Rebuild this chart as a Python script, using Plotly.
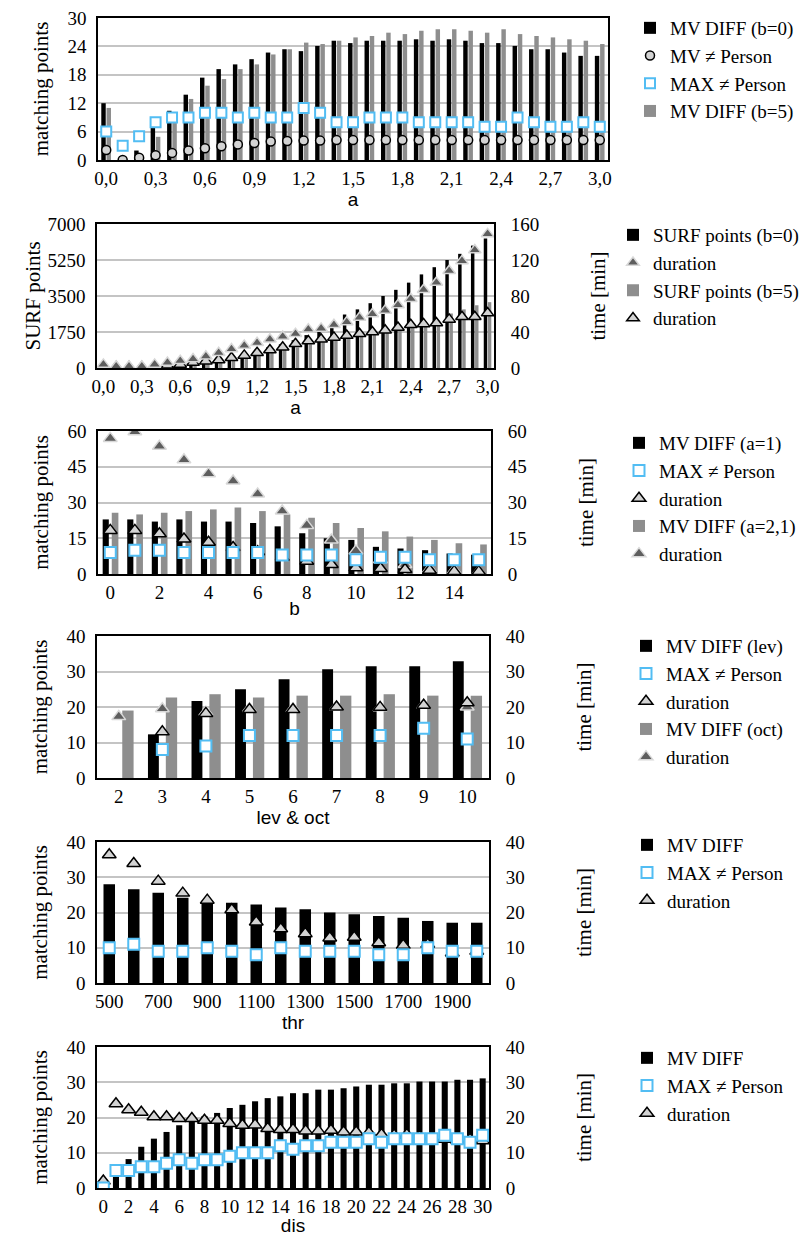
import plotly.graph_objects as go

W, H = 808, 1236
SERIF = "Liberation Serif, Times New Roman, serif"
SANS = "Liberation Sans, Arial, sans-serif"
BLACK = "#000000"
GRAY = "#8e8e8e"
GRID = "#c4c4c4"
BLUE = "#52bdf3"
LIGHT = "#d3d3d3"
DARK = "#5e5e5e"

# ---------------- data ----------------
a_labels = ["0,0", "0,1", "0,2", "0,3", "0,4", "0,5", "0,6", "0,7", "0,8", "0,9",
            "1,0", "1,1", "1,2", "1,3", "1,4", "1,5", "1,6", "1,7", "1,8", "1,9",
            "2,0", "2,1", "2,2", "2,3", "2,4", "2,5", "2,6", "2,7", "2,8", "2,9", "3,0"]
a_ticks = ["0,0", "0,3", "0,6", "0,9", "1,2", "1,5", "1,8", "2,1", "2,4", "2,7", "3,0"]

# panel 1
p1_mv_diff_b0 = [12, 0, 2, 7, 10.4, 13.8, 17.4, 19.2, 20.2, 21.3, 22.7, 23.4, 23.0, 24.1, 25.2, 24.7,
                 25.2, 25.2, 25.2, 25.5, 25.2, 25.5, 25.2, 24.7, 24.7, 24.1, 23.4, 23.4, 22.7, 22.0, 22.0]
p1_mv_ne_person = [2.1, 0, 0.5, 1.0, 1.5, 2.0, 2.5, 2.9, 3.3, 3.6, 3.9, 4.0, 4.1, 4.1, 4.2, 4.2,
                   4.2, 4.2, 4.2, 4.2, 4.2, 4.2, 4.2, 4.2, 4.2, 4.2, 4.2, 4.2, 4.2, 4.2, 4.2]
p1_max_ne_person = [6, 3, 5, 8, 9, 9, 10, 10, 9, 10, 9, 9, 11, 10, 8, 8,
                    9, 9, 9, 8, 8, 8, 8, 7, 7, 9, 8, 7, 7, 8, 7]
p1_mv_diff_b5 = [11, 0, 0, 4.9, 9.5, 12.9, 15.7, 17.1, 19.2, 20.2, 22.3, 23.4, 24.8, 24.5, 25.2, 25.9,
                 26.2, 26.9, 26.6, 27.3, 27.6, 27.6, 27.3, 26.9, 27.6, 26.6, 26.2, 25.9, 25.5, 25.2, 24.5]

# panel 2
p2_surf_b0 = [0, 0, 0, 10, 20, 40, 70, 120, 200, 300, 450, 620, 800, 1000, 1150, 1350,
              1600, 1800, 2050, 2600, 2850, 3150, 3500, 3800, 4150, 4550, 4900, 5250, 5550, 5950, 6300]
p2_duration_b0 = [4, 2, 2, 2, 4, 6, 8, 10, 13, 17, 21, 25, 28, 32, 35, 38,
                  43, 44, 48, 51, 56, 60, 64, 70, 77, 87, 95, 108, 119, 131, 149]
p2_surf_b5 = [0, 0, 0, 0, 10, 30, 60, 120, 200, 300, 420, 550, 700, 800, 900, 1000,
              1150, 1250, 1350, 1500, 1600, 1700, 1850, 1950, 2100, 2200, 2300, 2650, 2850, 3050, 3200]
p2_duration_b5 = [1, 1, 1, 1, 2, 3, 4, 6, 7.6, 8.8, 11.4, 14, 17, 20, 23, 27,
                  30, 32, 34, 36, 38, 40, 42, 45, 48, 49, 50, 54, 57, 57, 61]

# panel 3
b_labels = [str(v) for v in range(16)]
b_ticks = ["0", "2", "4", "6", "8", "10", "12", "14"]
p3_mv_diff_a1 = [22.9, 22.9, 22, 22.9, 22, 22, 21.4, 20, 17.1, 15, 14.3, 11.4, 10.7, 10, 8.6, 8.1]
p3_max_ne_person = [9, 10, 10, 9, 9, 9, 9, 8, 8, 8, 6, 7, 7, 6, 6, 6]
p3_duration_a1 = [18.3, 18.3, 16.9, 14.7, 13.3, 11.1, 9.3, 7, 5.4, 4, 2.6, 2.3, 1.9, 1.6, 1.1, 1]
p3_mv_diff_a21 = [25.7, 25, 25.7, 26.4, 27.1, 27.9, 26.4, 25, 23.6, 21.4, 19.3, 17.9, 15.7, 14.3, 12.9, 12.4]
p3_duration_a21 = [56.9, 59.7, 53.6, 47.9, 42.1, 39, 33.6, 26.4, 20.4, 14.3, 9.7, 6, 4, 2, 1.5, 1]

# panel 4
lev_labels = ["2", "3", "4", "5", "6", "7", "8", "9", "10"]
p4_mv_diff_lev = [None, 12.3, 21.7, 25, 27.8, 30.6, 31.5, 31.5, 32.9]
p4_max_ne_person = [None, 8, 9, 12, 12, 12, 12, 14, 11]
p4_duration_lev = [None, 13, 18.2, 19.3, 19.3, 20, 19.9, 20.5, 21.2]
p4_mv_diff_oct = [19, 22.7, 23.6, 22.7, 23.2, 23.2, 23.6, 23.2, 23.2]
p4_duration_oct = [17.3, 19.5, 18.5, 19.5, 19.5, 20, 19.8, 20.5, 20]

# panel 5
thr_labels = ["500", "600", "700", "800", "900", "1000", "1100", "1200",
              "1300", "1400", "1500", "1600", "1700", "1800", "1900", "2000"]
thr_ticks = ["500", "700", "900", "1100", "1300", "1500", "1700", "1900"]
p5_mv_diff = [28, 26.6, 25.6, 24.2, 23.3, 22.8, 22.3, 21.4, 20.9, 20, 19.5, 19, 18.5, 17.6, 17.1, 17.1]
p5_max_ne_person = [10, 11, 9, 9, 10, 9, 8, 10, 9, 9, 9, 8, 8, 10, 9, 9]
p5_duration = [36.4, 33.9, 28.9, 25.5, 23.5, 20.8, 17.3, 15.4, 14, 12.8, 13, 11.4, 10.7, 11, 8.5, 9]

# panel 6
dis_labels = [str(v) for v in range(31)]
dis_ticks = [str(v) for v in range(0, 31, 2)]
p6_mv_diff = [0, 4, 8.2, 11.7, 14, 15.9, 17.8, 19.4, 20.4, 21.3, 22.7, 23.6, 24.6, 25.5, 26, 26.9,
              26.9, 27.9, 27.9, 28.3, 28.8, 29.3, 29.3, 29.7, 29.7, 30.2, 30.2, 30.2, 30.7, 30.7, 31.1]
p6_max_ne_person = [0, 5, 5, 6, 6, 7, 8, 7, 8, 8, 9, 10, 10, 10, 12, 11,
                    12, 12, 13, 13, 13, 14, 13, 14, 14, 14, 14, 15, 14, 13, 15]
p6_duration = [2, 23.9, 22.2, 21.5, 20.2, 20.2, 19.7, 19.7, 19.2, 19.2, 18.3, 17.8, 17.9, 16.9, 16.6, 16.6,
               16.2, 16.2, 16.4, 15.9, 15.9, 15.7, 15.2, 15, 15.2, 14.6, 14.3, 13.8, 13.6, 13.8, 13.4]

# ---------------- layout helpers ----------------
def dom_x(x0, x1):
    return [x0 / W, x1 / W]


def dom_y(y0, y1):
    return [1 - y1 / H, 1 - y0 / H]


TICKFONT = dict(family=SERIF, size=19, color="black")
YTITLEFONT = dict(family=SERIF, size=21, color="black")
XTITLEFONT = dict(family=SANS, size=19, color="black")


def xaxis(domain, anchor, title, cats, ticks):
    return dict(domain=domain, anchor=anchor, type="category", categoryorder="array",
                categoryarray=cats, tickmode="array", tickvals=ticks, automargin=False,
                range=[-0.5, len(cats) - 0.5],
                ticks="", tickfont=TICKFONT,
                showline=True, linecolor="black", linewidth=1.5, mirror=True, showgrid=False,
                zeroline=False,
                title=dict(text=title, font=XTITLEFONT, standoff=0))


def yleft(domain, anchor, rng, dtick, title, standoff):
    return dict(domain=domain, anchor=anchor, range=rng, dtick=dtick, tick0=0, automargin=False,
                showgrid=True, gridcolor=GRID, gridwidth=1.5, zeroline=False,
                showline=True, linecolor="black", linewidth=1.5, mirror=True,
                ticks="outside", ticklen=6, tickcolor="rgba(0,0,0,0)", tickfont=TICKFONT,
                title=dict(text=title, font=YTITLEFONT, standoff=standoff))


def yright(overlay, anchor, rng, dtick, title, standoff):
    return dict(overlaying=overlay, anchor=anchor, side="right", range=rng, dtick=dtick, tick0=0,
                automargin=False, showgrid=False, zeroline=False, showline=False,
                ticks="outside", ticklen=12, tickcolor="rgba(0,0,0,0)", tickfont=TICKFONT,
                title=dict(text=title, font=YTITLEFONT, standoff=standoff))


def yhidden(overlay, anchor):
    return dict(overlaying=overlay, anchor=anchor, matches=overlay, visible=False, automargin=False)


def legend_at(x_px, y_px):
    return dict(x=x_px / W, y=1 - y_px / H, xanchor="left", yanchor="top",
                font=dict(family=SERIF, size=19, color="black"),
                bgcolor="rgba(0,0,0,0)", borderwidth=0, tracegroupgap=0, itemwidth=30)


fig = go.Figure()


def bar(x, y, xa, ya, color, name, legend, rank, width, offset):
    fig.add_trace(go.Bar(x=x, y=y, xaxis=xa, yaxis=ya, name=name, legend=legend, legendrank=rank,
                         marker=dict(color=color, line=dict(width=0)), width=width, offset=offset))


def pts(x, y, xa, ya, name, legend, rank, symbol, size, fill, line, lw):
    fig.add_trace(go.Scatter(x=x, y=y, xaxis=xa, yaxis=ya, name=name, legend=legend, legendrank=rank,
                             mode="markers",
                             marker=dict(symbol=symbol, size=size, color=fill,
                                         line=dict(color=line, width=lw))))


# panel 1
bar(a_labels, p1_mv_diff_b0, "x", "y", BLACK, "MV DIFF (b=0)", "legend", 1, 0.27, -0.30)
bar(a_labels, p1_mv_diff_b5, "x", "y", GRAY, "MV DIFF (b=5)", "legend", 4, 0.27, 0.02)
pts(a_labels, p1_mv_ne_person, "x", "y", "MV \u2260 Person", "legend", 2, "circle", 9, LIGHT, BLACK, 1.5)
pts(a_labels, p1_max_ne_person, "x", "y", "MAX \u2260 Person", "legend", 3, "square", 10, "white", BLUE, 2)

# panel 2
bar(a_labels, p2_surf_b0, "x2", "y2", BLACK, "SURF points (b=0)", "legend2", 1, 0.27, -0.30)
bar(a_labels, p2_surf_b5, "x2", "y2", GRAY, "SURF points (b=5)", "legend2", 3, 0.27, 0.02)
pts(a_labels, p2_duration_b5, "x2", "y3", "duration", "legend2", 4, "triangle-up", 11, LIGHT, BLACK, 1.5)
pts(a_labels, p2_duration_b0, "x2", "y3", "duration", "legend2", 2, "triangle-up", 11, DARK, "#d8d8d8", 1.5)

# panel 3
bar(b_labels, p3_mv_diff_a1, "x3", "y4", BLACK, "MV DIFF (a=1)", "legend3", 1, 0.25, -0.31)
bar(b_labels, p3_mv_diff_a21, "x3", "y4", GRAY, "MV DIFF (a=2,1)", "legend3", 4, 0.27, 0.06)
pts(b_labels, p3_duration_a21, "x3", "y5", "duration", "legend3", 5, "triangle-up", 12, DARK, "#d8d8d8", 1.5)
pts(b_labels, p3_duration_a1, "x3", "y5", "duration", "legend3", 3, "triangle-up", 12, LIGHT, BLACK, 1.5)
pts(b_labels, p3_max_ne_person, "x3", "y6", "MAX \u2260 Person", "legend3", 2, "square", 11, "white", BLUE, 2)

# panel 4
bar(lev_labels, p4_mv_diff_lev, "x4", "y7", BLACK, "MV DIFF (lev)", "legend4", 1, 0.25, -0.33)
bar(lev_labels, p4_mv_diff_oct, "x4", "y7", GRAY, "MV DIFF (oct)", "legend4", 4, 0.26, 0.08)
pts(lev_labels, p4_duration_oct, "x4", "y8", "duration", "legend4", 5, "triangle-up", 12, DARK, "#d8d8d8", 1.5)
pts(lev_labels, p4_duration_lev, "x4", "y8", "duration", "legend4", 3, "triangle-up", 12, LIGHT, BLACK, 1.5)
pts(lev_labels, p4_max_ne_person, "x4", "y9", "MAX \u2260 Person", "legend4", 2, "square", 11, "white", BLUE, 2)

# panel 5
bar(thr_labels, p5_mv_diff, "x5", "y10", BLACK, "MV DIFF", "legend5", 1, 0.47, -0.235)
pts(thr_labels, p5_duration, "x5", "y11", "duration", "legend5", 3, "triangle-up", 12, LIGHT, BLACK, 1.5)
pts(thr_labels, p5_max_ne_person, "x5", "y12", "MAX \u2260 Person", "legend5", 2, "square", 11, "white", BLUE, 2)

# panel 6
bar(dis_labels, p6_mv_diff, "x6", "y13", BLACK, "MV DIFF", "legend6", 1, 0.48, -0.24)
pts(dis_labels, p6_duration, "x6", "y14", "duration", "legend6", 3, "triangle-up", 12, LIGHT, BLACK, 1.5)
pts(dis_labels, p6_max_ne_person, "x6", "y15", "MAX \u2260 Person", "legend6", 2, "square", 11, "white", BLUE, 2)

# plot areas in pixels (left, right, top, bottom)
P1 = (98, 608, 18, 160)
P2 = (97, 494, 224, 368)
P3 = (98, 491, 431, 574)
P4 = (97, 489, 636, 778)
P5 = (97, 489, 842, 983)
P6 = (97, 489, 1047, 1188)

layout = dict(
    template="none",
    width=W, height=H, margin=dict(l=0, r=0, t=0, b=0, pad=0, autoexpand=False),
    paper_bgcolor="white", plot_bgcolor="white", barmode="overlay", showlegend=True,
    xaxis=xaxis(dom_x(P1[0], P1[1]), "y", "a", a_labels, a_ticks),
    yaxis=yleft(dom_y(P1[2], P1[3]), "x", [0, 30], 6, "matching points", 13),
    xaxis2=xaxis(dom_x(P2[0], P2[1]), "y2", "a", a_labels, a_ticks),
    yaxis2=yleft(dom_y(P2[2], P2[3]), "x2", [0, 7000], 1750, "SURF points", 1),
    yaxis3=yright("y2", "x2", [0, 160], 40, "time [min]", 52),
    xaxis3=xaxis(dom_x(P3[0], P3[1]), "y4", "b", b_labels, b_ticks),
    yaxis4=yleft(dom_y(P3[2], P3[3]), "x3", [0, 60], 15, "matching points", 13),
    yaxis5=yright("y4", "x3", [0, 60], 15, "time [min]", 52),
    yaxis6=yhidden("y4", "x3"),
    xaxis4=xaxis(dom_x(P4[0], P4[1]), "y7", "lev &amp; oct", lev_labels, lev_labels),
    yaxis7=yleft(dom_y(P4[2], P4[3]), "x4", [0, 40], 10, "matching points", 13),
    yaxis8=yright("y7", "x4", [0, 40], 10, "time [min]", 52),
    yaxis9=yhidden("y7", "x4"),
    xaxis5=xaxis(dom_x(P5[0], P5[1]), "y10", "thr", thr_labels, thr_ticks),
    yaxis10=yleft(dom_y(P5[2], P5[3]), "x5", [0, 40], 10, "matching points", 13),
    yaxis11=yright("y10", "x5", [0, 40], 10, "time [min]", 52),
    yaxis12=yhidden("y10", "x5"),
    xaxis6=xaxis(dom_x(P6[0], P6[1]), "y13", "dis", dis_labels, dis_ticks),
    yaxis13=yleft(dom_y(P6[2], P6[3]), "x6", [0, 40], 10, "matching points", 13),
    yaxis14=yright("y13", "x6", [0, 40], 10, "time [min]", 52),
    yaxis15=yhidden("y13", "x6"),
    legend=legend_at(630, 9),
    legend2=legend_at(613, 216),
    legend3=legend_at(619, 424),
    legend4=legend_at(626, 627),
    legend5=legend_at(627, 826),
    legend6=legend_at(627, 1039),
)
fig.update_layout(**layout)
fig.write_html("out.html", config={"displayModeBar": False},
               post_script="document.body.style.margin='0';")
